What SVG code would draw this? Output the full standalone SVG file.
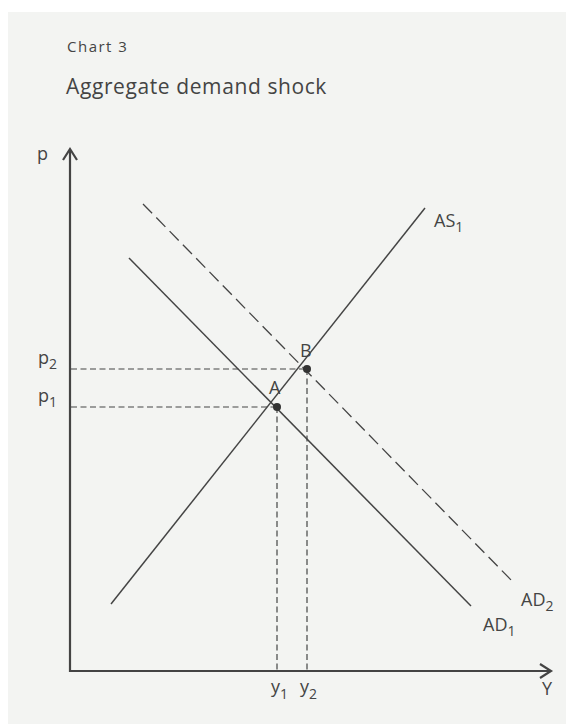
<svg xmlns="http://www.w3.org/2000/svg" width="566" height="724" viewBox="0 0 566 724">
<defs>
<style>
.t{font-family:"Open Sans","Noto Sans","DejaVu Sans",sans-serif;fill:#444;}
.lbl{font-size:18px;}
.sub{font-size:14px;}
.ax{stroke:#444;stroke-width:2.2;fill:none;}
.ln{stroke:#444;stroke-width:1.5;fill:none;}
.ds{stroke:#444;stroke-width:1.2;fill:none;stroke-dasharray:6 3.5;}
.ds2{stroke:#444;stroke-width:1.3;fill:none;stroke-dasharray:13 6;}
</style>
</defs>
<rect x="8" y="12" width="558" height="712" fill="#f3f4f2"/>
<text class="t" x="67" y="52" font-size="15" letter-spacing="1.5">Chart 3</text>
<text class="t" x="66" y="94" font-size="21" letter-spacing="0.6">Aggregate demand shock</text>
<g id="connectors">
<line class="ds" x1="71" y1="369" x2="307" y2="369"/>
<line class="ds" x1="71" y1="407" x2="277" y2="407"/>
<line class="ds" x1="277" y1="407" x2="277" y2="670"/>
<line class="ds" x1="307" y1="369" x2="307" y2="670"/>
<line class="ln" x1="111" y1="604" x2="425" y2="208"/>
<line class="ln" x1="129" y1="258" x2="471" y2="606"/>
<line class="ds2" x1="143" y1="204" x2="515" y2="584"/>
</g>
<g id="axes">
<polyline class="ax" points="70,150 70,671 551,671"/>
<polyline class="ax" points="63,160 70,149 77,160"/>
<polyline class="ax" points="540,664 551,671 540,678"/>
</g>
<g id="A"><circle cx="277" cy="407" r="4" fill="#333"/><text class="t lbl" x="269" y="394">A</text></g>
<g id="B"><circle cx="307" cy="369" r="4" fill="#333"/><text class="t lbl" x="300" y="357">B</text></g>
<g id="labels">
<text class="t lbl" x="37" y="160">p</text>
<text class="t lbl" x="38" y="364">p<tspan class="sub" dy="5">2</tspan></text>
<text class="t lbl" x="38" y="402">p<tspan class="sub" dy="5">1</tspan></text>
<text class="t lbl" x="271" y="693">y<tspan class="sub" dy="6">1</tspan></text>
<text class="t lbl" x="300" y="693">y<tspan class="sub" dy="6">2</tspan></text>
<text class="t lbl" x="542" y="695">Y</text>
<text class="t lbl" x="434" y="227">AS<tspan class="sub" dy="5">1</tspan></text>
<text class="t lbl" x="521" y="606">AD<tspan class="sub" dy="5">2</tspan></text>
<text class="t lbl" x="483" y="631">AD<tspan class="sub" dy="5">1</tspan></text>
</g>
</svg>
